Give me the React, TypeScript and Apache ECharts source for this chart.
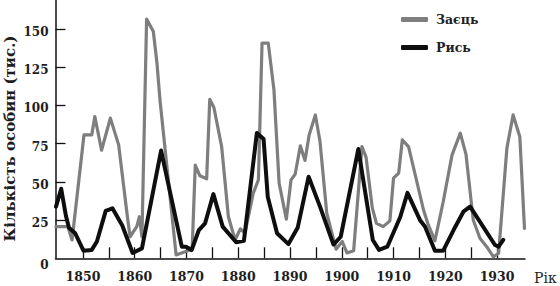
import React, { useEffect, useRef } from "react";
import * as echarts from "echarts";

// Заєць (hare), thousands
const hareYears = [1844.8, 1847.1, 1847.9, 1850.2, 1851.7, 1852.3, 1853.6, 1855.3, 1856.9, 1858.5, 1859.1, 1860.4, 1860.9, 1861.4, 1862.3, 1863.6, 1864.3, 1864.9, 1868.0, 1871.1, 1871.7, 1872.6, 1873.9, 1874.5, 1875.3, 1876.8, 1878.1, 1879.4, 1880.4, 1881.3, 1882.9, 1883.9, 1884.6, 1885.8, 1886.9, 1887.9, 1889.3, 1890.2, 1891.0, 1892.0, 1892.9, 1893.7, 1894.9, 1895.8, 1897.1, 1898.9, 1900.1, 1901.0, 1902.3, 1903.9, 1904.7, 1905.9, 1906.7, 1908.0, 1909.3, 1910.0, 1911.0, 1911.7, 1912.9, 1915.8, 1916.7, 1918.0, 1919.6, 1921.3, 1922.9, 1924.0, 1925.4, 1926.7, 1928.0, 1929.3, 1930.3, 1931.9, 1933.1, 1934.4, 1935.3];
const hareValues = [20.7, 20.7, 12, 80.7, 80.7, 92.7, 70.7, 91.7, 74.2, 29.6, 14.1, 20.7, 27.2, 14, 156.5, 148.4, 127.7, 103, 2.2, 6, 61, 54, 52, 104, 98.7, 73, 27.2, 12, 19.3, 16.5, 42.6, 51.3, 140.8, 140.8, 110.2, 49.1, 25.6, 51.3, 55, 73.6, 64, 80.7, 93.8, 76.4, 29.5, 6, 11, 3.5, 5, 73.1, 66, 33, 22.9, 20.7, 24.5, 52.4, 55.7, 77.5, 73.1, 31.6, 22, 11.5, 37, 67.5, 81.9, 68, 25.1, 13.1, 7.6, 1, 3.3, 72, 93.8, 79.6, 19.6];

// Рись (lynx), thousands
const lynxYears = [1844.8, 1845.8, 1846.7, 1847.3, 1848.5, 1850.1, 1851.7, 1852.7, 1854.4, 1855.7, 1857.6, 1859.6, 1861.4, 1865.1, 1869.1, 1869.9, 1871.0, 1872.4, 1873.6, 1875.2, 1877.0, 1879.6, 1881.1, 1883.6, 1884.9, 1885.7, 1887.5, 1889.7, 1891.5, 1893.6, 1895.8, 1898.4, 1899.8, 1903.2, 1906.0, 1907.2, 1908.8, 1911.3, 1912.7, 1915.1, 1916.1, 1918.0, 1919.6, 1921.6, 1923.5, 1924.8, 1929.6, 1930.3, 1931.2];
const lynxValues = [33.8, 45.5, 28, 20, 16.4, 5, 5.5, 11, 31, 32.7, 21.5, 3.5, 6.5, 70.5, 7.6, 7.6, 5.4, 18.5, 22.9, 42, 20.7, 10.5, 11.5, 82, 78, 40.3, 16.4, 9.3, 20.2, 53.4, 33.8, 9, 14.1, 71.5, 12, 5.5, 7.6, 27, 42.8, 25.1, 20.7, 5, 5, 18.5, 30.5, 33.8, 8.7, 7.6, 12];

const xTicks = [1850, 1855, 1860, 1865, 1870, 1875, 1880, 1885, 1890, 1895, 1900, 1905, 1910, 1915, 1920, 1925, 1930];
const xLabels = [1850, 1860, 1870, 1880, 1890, 1900, 1910, 1920, 1930];
const yTicks = [25, 50, 75, 100, 125, 150];
const yLabels = [0, 25, 50, 75, 100, 125, 150];

const seriesNames = ["Заєць", "Рись"];
const yTitle = "Кількість особин (тис.)";
const xTitle = "Рік";

const FONT = "'DejaVu Serif', serif";
const TEXT = "#1e1e1e";
const HARE = "#7e7e7e";
const LYNX = "#0e0e0e";

export default function App() {
  const ref = useRef<HTMLDivElement>(null);
  useEffect(() => {
    if (!ref.current) return;
    const chart = echarts.init(ref.current, undefined, { renderer: "svg" });
    const hare = hareYears.map((y, i) => [y, hareValues[i]]);
    const lynx = lynxYears.map((y, i) => [y, lynxValues[i]]);
    chart.setOption({
      animation: false,
      backgroundColor: "#ffffff",
      grid: { left: 55.5, top: 0, width: 469.5, height: 258.3, containLabel: false },
      legend: {
        left: 396,
        top: 8,
        orient: "vertical",
        itemWidth: 27,
        itemHeight: 5,
        itemGap: 15,
        icon: "roundRect",
        data: [
          { name: seriesNames[0], itemStyle: { color: HARE } },
          { name: seriesNames[1], itemStyle: { color: LYNX } },
        ],
        textStyle: { fontFamily: FONT, fontSize: 12.5, fontWeight: "bold", color: TEXT, padding: [0, 0, 0, 3] },
      },
      xAxis: {
        type: "value",
        min: 1844.7,
        max: 1935.4,
        axisLine: { show: true, lineStyle: { color: "#111", width: 1.5 } },
        axisTick: { show: true, inside: true, length: 11, customValues: xTicks, lineStyle: { color: "#111", width: 1.3 } },
        axisLabel: {
          customValues: xLabels,
          margin: 12,
          fontFamily: FONT,
          fontSize: 12.5,
          fontWeight: "bold",
          color: TEXT,
          formatter: (v: number) => String(v),
        },
        splitLine: { show: false },
      },
      yAxis: {
        type: "value",
        min: 0,
        max: 169,
        axisLine: { show: true, lineStyle: { color: "#111", width: 1.5 } },
        axisTick: { show: true, inside: true, length: 10, customValues: yTicks, lineStyle: { color: "#111", width: 1.3 } },
        axisLabel: {
          customValues: yLabels,
          margin: 7,
          fontFamily: FONT,
          fontSize: 12,
          fontWeight: "bold",
          color: TEXT,
          padding: [6, 0, 0, 0],
          formatter: (v: number) => (v === 0 ? "{z|0}" : String(v)),
          rich: { z: { fontFamily: FONT, fontSize: 12, fontWeight: "bold", color: TEXT, padding: [8, 0, 0, 0] } },
        },
        splitLine: { show: false },
      },
      graphic: [
        {
          type: "text",
          x: 10,
          y: 138.5,
          rotation: Math.PI / 2,
          style: {
            text: yTitle,
            fontFamily: FONT,
            fontSize: 15,
            fontWeight: "bold",
            fill: TEXT,
            textAlign: "center",
            textVerticalAlign: "middle",
          },
        },
        {
          type: "text",
          x: 534,
          y: 278,
          style: {
            text: xTitle,
            fontFamily: FONT,
            fontSize: 14,
            fill: TEXT,
            textAlign: "left",
            textVerticalAlign: "middle",
          },
        },
      ],
      series: [
        {
          name: seriesNames[0],
          type: "line",
          data: hare,
          showSymbol: false,
          z: 2,
          lineStyle: { color: HARE, width: 3.2, cap: "round", join: "round" },
          itemStyle: { color: HARE },
        },
        {
          name: seriesNames[1],
          type: "line",
          data: lynx,
          showSymbol: false,
          z: 3,
          lineStyle: { color: LYNX, width: 4, cap: "round", join: "round" },
          itemStyle: { color: LYNX },
        },
      ],
    });
    return () => chart.dispose();
  }, []);
  return <div ref={ref} style={{ width: 560, height: 286, position: "absolute", left: 0, top: 0 }} />;
}
